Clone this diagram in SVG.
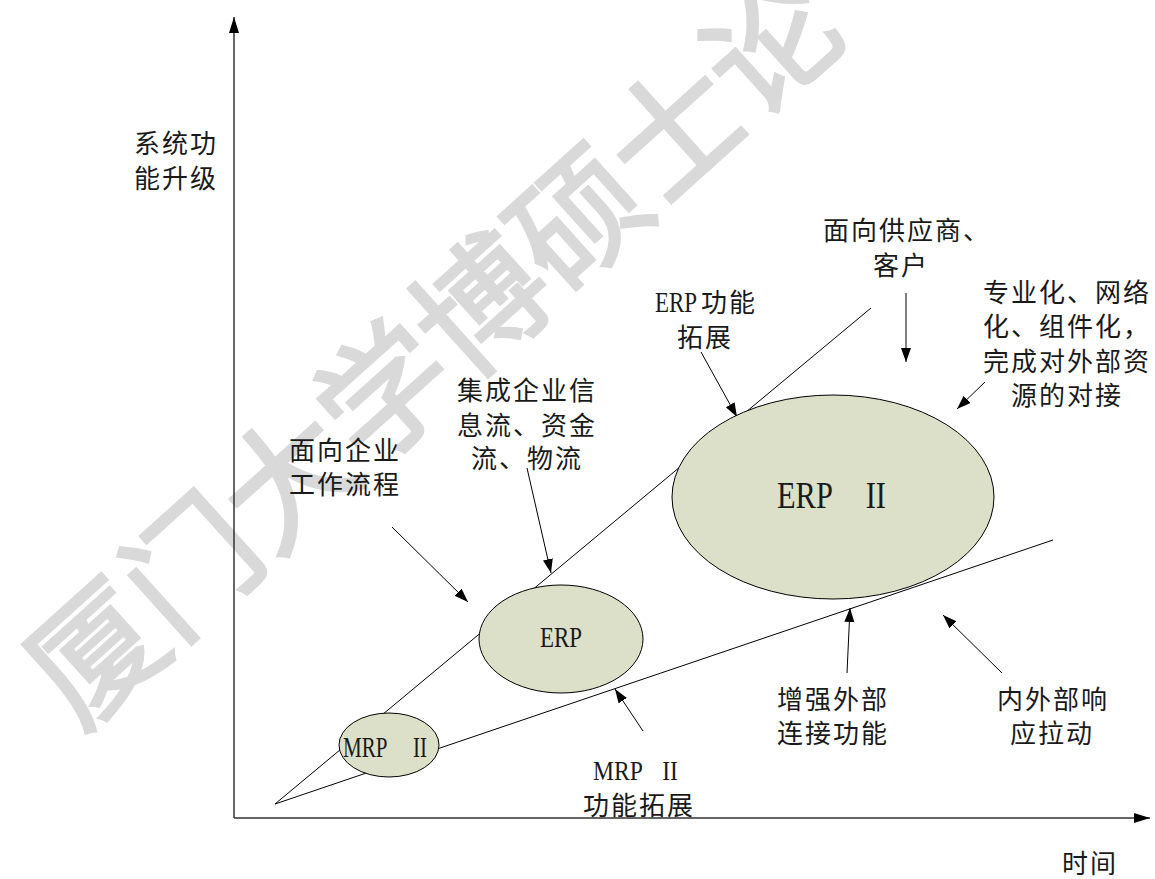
<svg xmlns="http://www.w3.org/2000/svg" width="1155" height="879" viewBox="0 0 1155 879">
<defs>
<marker id="ah" markerUnits="userSpaceOnUse" markerWidth="15" markerHeight="11" refX="14" refY="5" orient="auto">
<path d="M0,0 L14,5 L0,10 z" fill="#000"/>
</marker>
<marker id="axh" markerUnits="userSpaceOnUse" markerWidth="17" markerHeight="11" refX="16" refY="5" orient="auto">
<path d="M0,0 L16,5 L0,10 z" fill="#000"/>
</marker>
<style>
.wm{font-family:"Noto Sans CJK SC","Noto Sans",sans-serif;font-size:130px;fill:#d9d9d9;stroke:#d9d9d9;stroke-width:3}
.cn{font-family:"Noto Sans CJK SC","Noto Sans CJK JP",sans-serif;font-size:26px;letter-spacing:2px;fill:#1a1a1a;text-anchor:middle}
.lt{font-family:"Liberation Serif",serif;fill:#1a1a1a}
.ell{fill:#dce0c9;stroke:#000;stroke-width:1}
.ln{stroke:#000;stroke-width:1;fill:none}
.arr{stroke:#000;stroke-width:1;fill:none;marker-end:url(#ah)}
.ax{stroke:#333;stroke-width:1.5;fill:none;marker-end:url(#axh)}
</style>
</defs>
<g id="watermark">
<text class="wm" x="79" y="732" transform="rotate(-42 79 732)">厦门大学博硕士论</text>
</g>
<g id="axes">
<line class="ax" x1="234" y1="818" x2="234" y2="17"/>
<line class="ax" x1="234" y1="818" x2="1150" y2="818"/>
<text class="cn" x="176" y="153">系统功</text>
<text class="cn" x="176" y="188">能升级</text>
<text class="cn" x="1090" y="873">时间</text>
</g>
<g id="connectors">
<line class="ln" x1="275" y1="804" x2="871" y2="308"/>
<line class="ln" x1="275" y1="804" x2="1053" y2="540"/>
<line class="arr" x1="701" y1="352" x2="737" y2="417"/>
<line class="arr" x1="906" y1="293" x2="906" y2="362"/>
<line class="arr" x1="985" y1="382" x2="957" y2="409"/>
<line class="arr" x1="527" y1="468" x2="551" y2="573"/>
<line class="arr" x1="392" y1="527" x2="468" y2="602"/>
<line class="arr" x1="643" y1="731" x2="615" y2="689"/>
<line class="arr" x1="847" y1="673" x2="850" y2="608"/>
<line class="arr" x1="1002" y1="673" x2="943" y2="615"/>
</g>
<g id="mrp2">
<ellipse class="ell" cx="389" cy="745" rx="50" ry="32"/>
<text class="lt" x="343" y="757" font-size="30" word-spacing="30" textLength="84" lengthAdjust="spacingAndGlyphs">MRP II</text>
</g>
<g id="erp">
<ellipse class="ell" cx="561" cy="639" rx="82" ry="54"/>
<text class="lt" x="540" y="647" font-size="29" textLength="42" lengthAdjust="spacingAndGlyphs">ERP</text>
</g>
<g id="erp2">
<ellipse class="ell" cx="833" cy="497" rx="161" ry="102"/>
<text class="lt" x="777" y="508" font-size="38" word-spacing="33" textLength="109" lengthAdjust="spacingAndGlyphs">ERP II</text>
</g>
<g id="label-erp-ext">
<text class="lt" x="655" y="312" font-size="30" textLength="42" lengthAdjust="spacingAndGlyphs">ERP</text>
<text class="cn" x="729" y="312">功能</text>
<text class="cn" x="705" y="347">拓展</text>
</g>
<g id="label-supplier">
<text class="cn" x="907" y="240">面向供应商、</text>
<text class="cn" x="901" y="275">客户</text>
</g>
<g id="label-special">
<text class="cn" x="1067" y="302">专业化、网络</text>
<text class="cn" x="1067" y="336">化、组件化，</text>
<text class="cn" x="1067" y="371">完成对外部资</text>
<text class="cn" x="1067" y="405">源的对接</text>
</g>
<g id="label-integrate">
<text class="cn" x="527" y="400">集成企业信</text>
<text class="cn" x="527" y="435">息流、资金</text>
<text class="cn" x="527" y="468">流、物流</text>
</g>
<g id="label-workflow">
<text class="cn" x="345" y="460">面向企业</text>
<text class="cn" x="345" y="494">工作流程</text>
</g>
<g id="label-mrp-ext">
<text class="lt" x="593" y="780" font-size="28" word-spacing="17" textLength="85" lengthAdjust="spacingAndGlyphs">MRP II</text>
<text class="cn" x="639" y="815">功能拓展</text>
</g>
<g id="label-external">
<text class="cn" x="833" y="709">增强外部</text>
<text class="cn" x="833" y="743">连接功能</text>
</g>
<g id="label-pull">
<text class="cn" x="1053" y="709">内外部响</text>
<text class="cn" x="1052" y="743">应拉动</text>
</g>
</svg>
